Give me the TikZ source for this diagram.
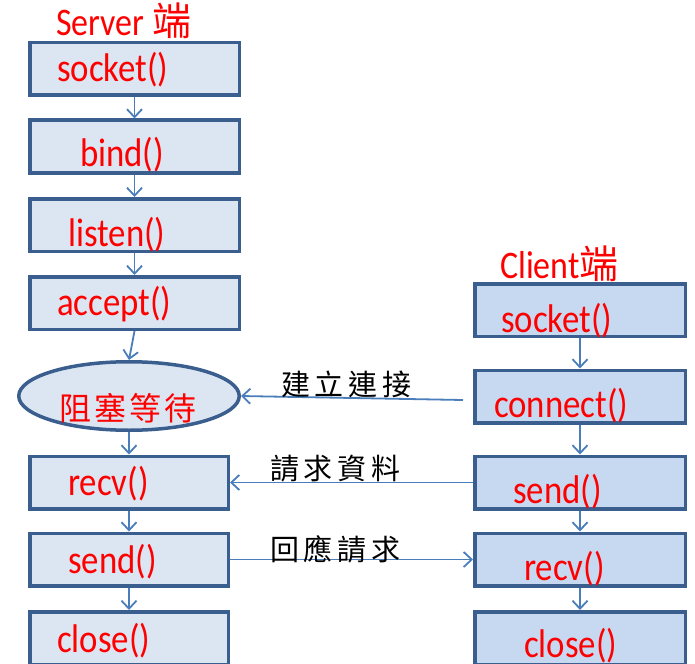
\documentclass[tikz,border=0pt]{standalone}
\usepackage{fontspec}
\setmainfont{Carlito}[FakeStretch=0.87]
\newfontfamily\cjk{Noto Sans CJK TC}
\newfontfamily\cjksp{Noto Sans CJK TC}[LetterSpace=16]
\usetikzlibrary{arrows.meta,shapes.geometric}
\definecolor{bordc}{HTML}{3A5F8E}
\definecolor{sfill}{HTML}{DCE6F2}
\definecolor{cfill}{HTML}{C6D9F1}
\definecolor{arrc}{HTML}{4A7EBB}
\definecolor{txtred}{HTML}{FF0000}
\begin{document}
\begin{tikzpicture}[x=1pt,y=-1pt,
  sbox/.style={draw=bordc,fill=sfill,line width=3.5pt,rectangle,inner sep=0pt,minimum width=209.5pt,minimum height=52.5pt},
  sboxb/.style={sbox,minimum width=198.5pt},
  cbox/.style={sbox,fill=cfill,minimum width=210.5pt},
  waitbox/.style={draw=bordc,fill=sfill,line width=3.5pt,ellipse,inner sep=0pt,minimum width=220.5pt,minimum height=68.5pt},
  lbl/.style={anchor=base west,inner sep=0pt,text=txtred,font=\fontsize{40}{44}\selectfont},
  ttl/.style={anchor=base west,inner sep=0pt,text=txtred,font=\fontsize{39}{42}\selectfont},
  elbl/.style={anchor=west,inner sep=0pt,text=black,font=\fontsize{29}{32}\selectfont\cjksp},
  conn/.style={draw=arrc,line width=1.8pt,-{Straight Barb[length=8pt,width=15pt,line width=1.8pt]}}
]
\useasboundingbox (0,0) rectangle (695,663);
% server column
\node[sbox] (s1) at (134.5,69) {};
\node[sbox] (s2) at (134.5,146.5) {};
\node[sbox] (s3) at (134.5,225) {};
\node[sbox] (s4) at (134.5,303) {};
\node[waitbox] (wait) at (129,396) {};
\node[sboxb] (s5) at (129,482.5) {};
\node[sboxb] (s6) at (129,559.5) {};
\node[sboxb] (s7) at (129,638) {};
% client column
\node[cbox] (c1) at (580,310) {};
\node[cbox] (c2) at (580,396.5) {};
\node[cbox] (c3) at (580,482.5) {};
\node[cbox] (c4) at (580,559.5) {};
\node[cbox] (c5) at (580,638) {};
% titles
\node[ttl] (tserver) at (56,36) {Server {\cjk 端}};
\node[ttl] (tclient) at (500,278) {Client{\cjk 端}};
% server texts
\node[lbl] (ts1) at (57,82) {socket()};
\node[lbl] (ts2) at (80,167) {bind()};
\node[lbl] (ts3) at (68,246) {listen()};
\node[lbl] (ts4) at (57,315) {accept()};
\node[anchor=west,inner sep=0pt,text=txtred,font=\fontsize{32}{35}\selectfont\cjk] (twait) at (59,408) {阻\hspace{3pt}塞\hspace{3pt}等\hspace{3pt}待};
\node[lbl] (ts5) at (68,495) {recv()};
\node[lbl] (ts6) at (68,573) {send()};
\node[lbl] (ts7) at (57,652) {close()};
% client texts
\node[lbl] (tc1) at (501,332) {socket()};
\node[lbl] (tc2) at (494,417) {connect()};
\node[lbl] (tc3) at (513,503) {send()};
\node[lbl] (tc4) at (524,580) {recv()};
\node[lbl] (tc5) at (524,657) {close()};
% vertical arrows
\draw[conn] (s1.south) -- (s2.north);
\draw[conn] (s2.south) -- (s3.north);
\draw[conn] (s3.south) -- (s4.north);
\draw[conn] (s4.south) -- (wait.north);
\draw[conn] (wait.south) -- (s5.north);
\draw[conn] (s5.south) -- (s6.north);
\draw[conn] (s6.south) -- (s7.north);
\draw[conn] (c1.south) -- (c2.north);
\draw[conn] (c2.south) -- (c3.north);
\draw[conn] (c3.south) -- (c4.north);
\draw[conn] (c4.south) -- (c5.north);
% horizontal connectors
\coordinate (cstart) at (463,400);
\draw[conn] (cstart) -- (wait.east);
\draw[conn] (c3.west) -- (s5.east);
\draw[conn] (s6.east) -- (c4.west);
\node[elbl] (e1) at (281,384) {建立連接};
\node[elbl] (e2) at (270,469) {請求資料};
\node[elbl] (e3) at (270,549) {回應請求};
\end{tikzpicture}
\end{document}
